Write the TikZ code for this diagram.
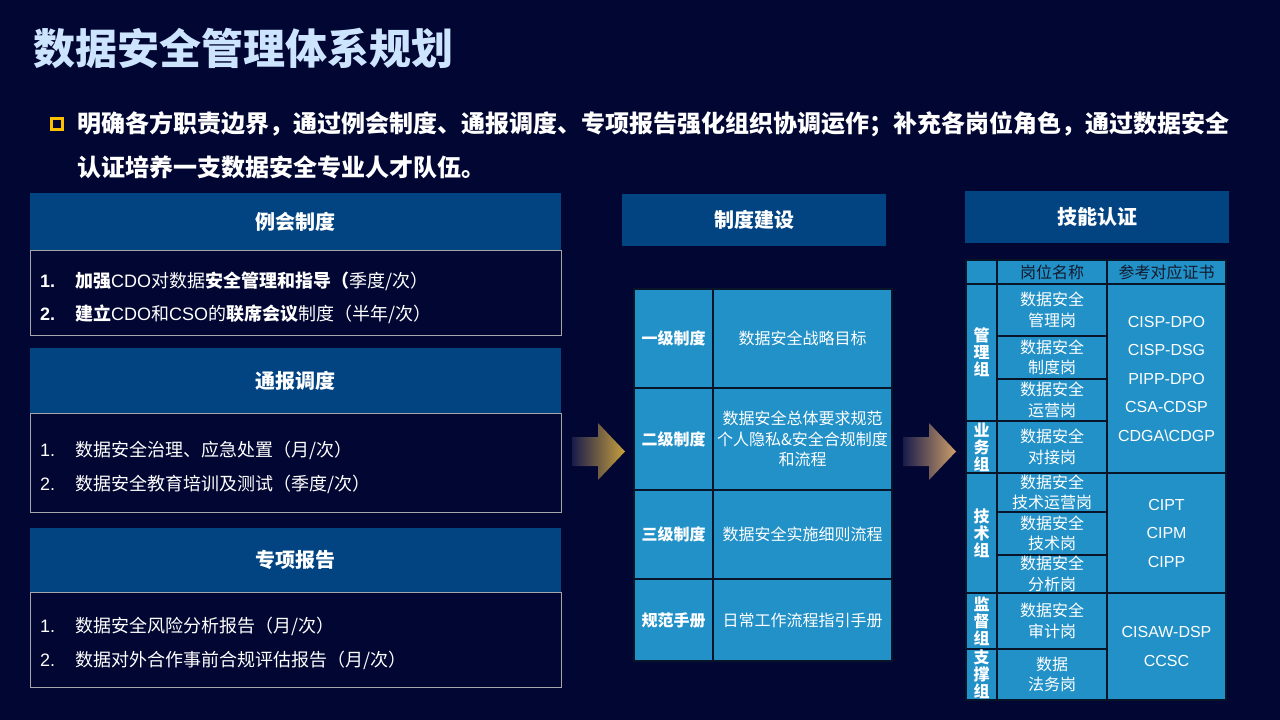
\documentclass[tikz,border=0pt]{standalone}
\usepackage{fontspec}
\setmainfont{Noto Sans CJK SC}
\newfontfamily\arial{Liberation Sans}
\usetikzlibrary{positioning}
\definecolor{bgnavy}{RGB}{1,6,50}
\definecolor{hdrblue}{RGB}{2,68,130}
\definecolor{cellblue}{RGB}{33,145,200}
\definecolor{gridline}{RGB}{8,20,40}
\definecolor{boxgray}{RGB}{165,165,170}
\definecolor{bulletgold}{RGB}{255,192,0}
\definecolor{titleblue}{RGB}{205,228,255}
\definecolor{arrowgold}{RGB}{200,160,60}
\definecolor{arrowtan}{RGB}{205,158,105}
\definecolor{arrowdark}{RGB}{25,28,75}
\definecolor{hdrtext}{RGB}{20,25,45}

\begin{document}
\begin{tikzpicture}[x=1pt,y=-1pt,
		hdr/.style={fill=hdrblue, text=white, inner sep=0pt, font=\bfseries\fontsize{20}{24}\selectfont},
		bodybox/.style={draw=boxgray, line width=1pt, fill=bgnavy, inner sep=0pt, minimum width=531pt},
		item/.style={anchor=west, text=white, inner sep=0pt, font=\fontsize{18}{22}\selectfont},
		num/.style={item, font=\arial\fontsize{18}{22}\selectfont},
		cell/.style={draw=gridline, line width=1.2pt, fill=cellblue, text=white, inner sep=0pt, align=center, font=\fontsize{16}{20.5}\selectfont},
		grp/.style={cell, font=\bfseries\fontsize{16}{17}\selectfont, minimum width=31pt},
		cert/.style={cell, font=\arial\fontsize{16}{28.5}\selectfont, minimum width=119pt}]
		\useasboundingbox (0,0) rectangle (1280,720);
		\fill[bgnavy] (0,0) rectangle (1280,720);
		\node[anchor=west, text=titleblue, inner sep=0pt, font=\bfseries\fontsize{42}{48}\selectfont] (title) at (33,48) {数据安全管理体系规划};
		\node[draw=bulletgold, line width=3pt, minimum size=11pt, inner sep=0pt] (bul) at (57,124) {};
		\node[anchor=west, text=white, inner sep=0pt, font=\bfseries\fontsize{24}{28}\selectfont] (intro1) at (77,124) {明确各方职责边界，通过例会制度、通报调度、专项报告强化组织协调运作；补充各岗位角色，通过数据安全};
		\node[anchor=west, text=white, inner sep=0pt, font=\bfseries\fontsize{24}{28}\selectfont] (intro2) at (77,167) {认证培养一支数据安全专业人才队伍。};

		\node[hdr, minimum width=531pt, minimum height=57pt] (hdrA) at (295.5,221.5) {例会制度};
		\node[bodybox, below=0pt of hdrA, minimum height=85pt] (bodyA) {};
		\node[num, font=\bfseries\arial\fontsize{18}{22}\selectfont] (numA1) at (40,281) {1.};
		\node[num, font=\bfseries\arial\fontsize{18}{22}\selectfont] (numA2) at (40,314) {2.};
		\node[item] (txtA1) at (75,281) {\textbf{加强}{\arial CDO}对数据\textbf{安全管理和指导（}季度/次）};
		\node[item] (txtA2) at (75,314) {\textbf{建立}{\arial CDO}和{\arial CSO}的\textbf{联席会议}制度（半年/次）};

		\node[hdr, minimum width=531pt, minimum height=65pt] (hdrB) at (295.5,380.5) {通报调度};
		\node[bodybox, below=0pt of hdrB, minimum height=99pt] (bodyB) {};
		\node[num] (numB1) at (40,450) {1.};
		\node[num] (numB2) at (40,484) {2.};
		\node[item] (txtB1) at (75,450) {数据安全治理、应急处置（月/次）};
		\node[item] (txtB2) at (75,484) {数据安全教育培训及测试（季度/次）};

		\node[hdr, minimum width=531pt, minimum height=64pt] (hdrC) at (295.5,560) {专项报告};
		\node[bodybox, below=0pt of hdrC, minimum height=95pt] (bodyC) {};
		\node[num] (numC1) at (40,626) {1.};
		\node[num] (numC2) at (40,660) {2.};
		\node[item] (txtC1) at (75,626) {数据安全风险分析报告（月/次）};
		\node[item] (txtC2) at (75,660) {数据对外合作事前合规评估报告（月/次）};

		\foreach \ax/\acol in {572/arrowgold, 903/arrowtan}
			\shade[left color=arrowdark, right color=\acol] (\ax,437) -- ++(26,0) -- ++(0,-14) -- ++(27,28.5) -- ++(-27,28.5) -- ++(0,-14) -- ++(-26,0) -- cycle;

		\node[hdr, minimum width=264pt, minimum height=52pt] (hdrM) at (754,220) {制度建设};
		\foreach \lvl/\desc/\ya/\yb [count=\i] in {一级制度/数据安全战略目标/289/388, 二级制度/{数据安全总体要求规范\\个人隐私\&安全合规制度\\和流程}/388/490, 三级制度/数据安全实施细则流程/490/579, 规范手册/日常工作流程指引手册/579/661}
		{
			\node[cell, font=\bfseries\fontsize{16}{20}\selectfont, minimum width=79pt, minimum height={(\yb-\ya)*1pt}] (lvl\i) at (673.5,{(\ya+\yb)/2}) {\lvl};
			\node[cell, minimum width=179pt, minimum height={(\yb-\ya)*1pt}] (desc\i) at (802.5,{(\ya+\yb)/2}) {\desc};
		}

		\node[hdr, minimum width=264pt, minimum height=52pt] (hdrR) at (1097,217) {技能认证};
		\node[cell, minimum width=31pt, minimum height=24pt] (hg) at (981.5,272) {};
		\node[cell, text=hdrtext, minimum width=110pt, minimum height=24pt] (hp) at (1052,272) {岗位名称};
		\node[cell, text=hdrtext, minimum width=119pt, minimum height=24pt] (hc) at (1166.5,272) {参考对应证书};
		\foreach \g/\ya/\yb [count=\i] in {{管\\理\\组}/284/421, {业\\务\\组}/421/473, {技\\术\\组}/473/593, {监\\督\\组}/593/649, {支\\撑\\组}/649/700}
			\node[grp, minimum height={(\yb-\ya)*1pt}] (grp\i) at (981.5,{(\ya+\yb)/2}) {\g};
		\foreach \p/\ya/\yb [count=\i] in {管理岗/284/336, 制度岗/336/379, 运营岗/379/421, 对接岗/421/473, 技术运营岗/473/512, 技术岗/512/555, 分析岗/555/593, 审计岗/593/649}
			\node[cell, minimum width=110pt, minimum height={(\yb-\ya)*1pt}] (pos\i) at (1052,{(\ya+\yb)/2}) {数据安全\\\p};
		\node[cell, minimum width=110pt, minimum height=51pt] (pos9) at (1052,674.5) {数据\\法务岗};
		\node[cert, minimum height=189pt] (certA) at (1166.5,378.5) {CISP-DPO\\CISP-DSG\\PIPP-DPO\\CSA-CDSP\\CDGA\textbackslash CDGP};
		\node[cert, minimum height=120pt] (certB) at (1166.5,533) {CIPT\\CIPM\\CIPP};
		\node[cert, minimum height=107pt] (certC) at (1166.5,646.5) {CISAW-DSP\\CCSC};
	\end{tikzpicture}
\end{document}
